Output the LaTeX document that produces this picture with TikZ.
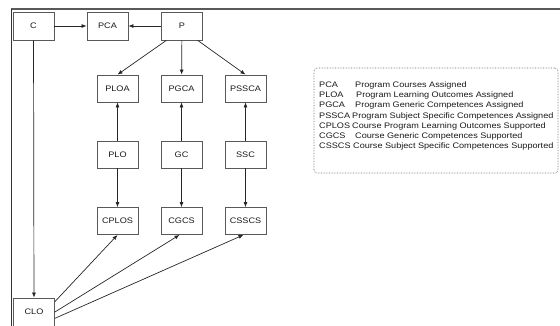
\documentclass[tikz,border=0pt]{standalone}
\usepackage{fontspec}
\setmainfont{Liberation Sans}[FakeStretch=1.14]
\usetikzlibrary{arrows.meta,calc}
\begin{document}
\begin{tikzpicture}[x=1pt,y=-1pt,
  box/.style={draw=black!65, line width=0.8pt, minimum width=41pt, minimum height=28pt,
    inner sep=0pt, fill=white, text=black!90, font=\fontsize{8}{9}\selectfont},
  conn/.style={draw=black!85, line width=0.7pt, -{Latex[length=5pt,width=4pt]}},
  legtext/.style={anchor=west, inner sep=0pt, text=black!90, font=\fontsize{8}{9}\selectfont},
  frame/.style={draw=black!65}]
\useasboundingbox (0,0) rectangle (560,325);
% frame
\coordinate (ftl) at (11,9);
\coordinate (ftr) at (560,9);
\coordinate (fbl) at (11,326);
\draw[frame, line width=1.8pt] (ftl) -- (ftr);
\draw[frame, draw=black!80, line width=1pt] (ftl) -- (fbl);
% nodes
\node[box] (C) at (33.5,26) {C};
\node[box] (PCA) at (107.5,26) {PCA};
\node[box] (P) at (182,26) {P};
\node[box, minimum height=27pt] (PLOA) at (117.5,88.5) {PLOA};
\node[box, minimum height=27pt] (PGCA) at (181.5,88.5) {PGCA};
\node[box, minimum height=27pt] (PSSCA) at (245.5,88.5) {PSSCA};
\node[box, minimum height=27pt] (PLO) at (117.5,154.5) {PLO};
\node[box, minimum height=27pt] (GC) at (181.5,154.5) {GC};
\node[box, minimum height=27pt] (SSC) at (245.5,154.5) {SSC};
\node[box, minimum height=27pt] (CPLOS) at (117.5,221) {CPLOS};
\node[box, minimum height=27pt] (CGCS) at (181.5,221) {CGCS};
\node[box, minimum height=27pt] (CSSCS) at (245.5,221) {CSSCS};
\node[box] (CLO) at (34,312) {CLO};
% connectors
\draw[conn] (C) -- (PCA);
\draw[conn] (P) -- (PCA);
\draw[conn] ($(P.south)!0.75!(P.south west)$) -- (PLOA.north);
\draw[conn] (P) -- (PGCA);
\draw[conn] ($(P.south)!0.75!(P.south east)$) -- (PSSCA.north);
\draw[conn] (PLO) -- (PLOA);
\draw[conn] (GC) -- (PGCA);
\draw[conn] (SSC) -- (PSSCA);
\draw[conn] (PLO) -- (CPLOS);
\draw[conn] (GC) -- (CGCS);
\draw[conn] (SSC) -- (CSSCS);
\draw[conn] (C) -- (CLO);
\draw[conn] ($(CLO.north east)!0.14!(CLO.south east)$) -- (CPLOS.south);
\draw[conn] ($(CLO.north east)!0.5!(CLO.south east)$) -- ($(CGCS.south)+(-2,0)$);
\draw[conn] ($(CLO.north east)!0.72!(CLO.south east)$) -- ($(CSSCS.south)+(-2,0)$);
% legend
\node[draw=black!60, densely dotted, line width=0.6pt, rounded corners=3pt,
  minimum width=244pt, minimum height=105pt, inner sep=0pt] (legend) at (436,120.5) {};
\node[legtext] (l1) at (319,85.5) {\makebox[36pt][l]{PCA}Program Courses Assigned};
\node[legtext] (l2) at (319,95.7) {\makebox[37pt][l]{PLOA}Program Learning Outcomes Assigned};
\node[legtext] (l3) at (319,105.9) {\makebox[36pt][l]{PGCA}Program Generic Competences Assigned};
\node[legtext] (l4) at (319,116.1) {\makebox[33pt][l]{PSSCA}Program Subject Specific Competences Assigned};
\node[legtext] (l5) at (319,126.3) {\makebox[33pt][l]{CPLOS}Course Program Learning Outcomes Supported};
\node[legtext] (l6) at (319,136.5) {\makebox[36pt][l]{CGCS}Course Generic Competences Supported};
\node[legtext] (l7) at (319,146.7) {\makebox[34pt][l]{CSSCS}Course Subject Specific Competences Supported};
\end{tikzpicture}
\end{document}
